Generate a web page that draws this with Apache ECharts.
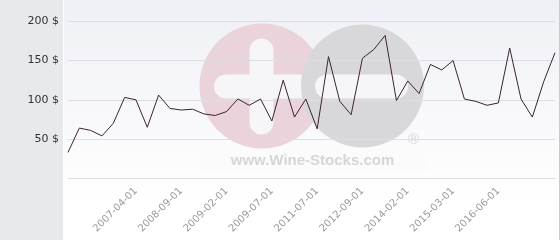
<!DOCTYPE html>
<html><head><meta charset="utf-8">
<script src="https://cdn.jsdelivr.net/npm/echarts@6/dist/echarts.min.js"></script>
<style>html,body{margin:0;padding:0;background:#fff}#c{width:560px;height:240px}</style>
</head><body><div id="c"></div>
<script>
// Category labels (only every 4th category is labelled in the reference; others unknown)
const categories = ['', '', '', '', '', '', '2007-04-01', '', '', '', '2008-09-01', '', '', '', '2009-02-01', '', '', '', '2009-07-01', '', '', '', '2011-07-01', '', '', '', '2012-09-01', '', '', '', '2014-02-01', '', '', '', '2015-03-01', '', '', '', '2016-06-01', '', '', '', '', ''];
const prices = [33, 64, 61, 54, 70, 103, 100, 65, 106, 89, 87, 88, 82, 80, 85, 101, 93, 101, 73, 125, 78, 101, 63, 155, 98, 81, 153, 164, 182, 99, 124, 108, 145, 138, 150, 101, 98, 93, 96, 166, 101, 78, 123, 160];
const yTicks = [0, 50, 100, 150, 200];

const chart = echarts.init(document.getElementById('c'), null, {renderer: 'canvas'});
chart.setOption({
  animation: false,
  backgroundColor: '#ffffff',
  grid: {left: 68, right: 5, top: 21.3, bottom: 61.7, containLabel: false},
  graphic: [
    {type: 'rect', z: -20, silent: true, shape: {x: 0, y: 0, width: 63, height: 240}, style: {fill: '#e6eaed'}},
    {type: 'rect', z: -20, silent: true, shape: {x: 64, y: 0, width: 495, height: 240},
      style: {fill: new echarts.graphic.LinearGradient(0, 0, 0, 1, [{offset: 0, color: '#eff0f5'}, {offset: 0.85, color: '#ffffff'}, {offset: 1, color: '#ffffff'}])}},
    {type: 'rect', z: -20, silent: true, shape: {x: 559, y: 0, width: 1, height: 240}, style: {fill: '#c9cbce'}},
    // watermark
    {type: 'rect', z: -15, silent: true, shape: {x: 197, y: 143, width: 231, height: 29}, style: {fill: '#fbfbfc'}},
    {type: 'circle', z: -14, silent: true, shape: {cx: 262, cy: 86, r: 62.5}, style: {fill: '#ead3da'}},
    {type: 'rect', z: -13, silent: true, shape: {x: 249.5, y: 38.5, width: 24, height: 96, r: 12}, style: {fill: '#f6f6f9'}},
    {type: 'rect', z: -13, silent: true, shape: {x: 214, y: 74.5, width: 100, height: 24, r: 12}, style: {fill: '#f6f6f9'}},
    {type: 'circle', z: -12, silent: true, shape: {cx: 362.5, cy: 86, r: 61.5}, style: {fill: '#d8d8da'}},
    {type: 'rect', z: -11, silent: true, shape: {x: 315, y: 74.5, width: 93, height: 24, r: 12}, style: {fill: '#f6f6f9'}},
    {type: 'text', z: -11, silent: true, style: {x: 312.5, y: 160.5, text: 'www.Wine-Stocks.com', fill: '#d6d6d9', font: 'bold 15px "Liberation Sans", Arial, sans-serif', align: 'center', verticalAlign: 'middle'}},
    {type: 'text', z: -11, silent: true, style: {x: 413.5, y: 139.5, text: '®', fill: '#d6d6d9', font: '15px "Liberation Sans", Arial, sans-serif', align: 'center', verticalAlign: 'middle'}}
  ],
  xAxis: {
    type: 'category', data: categories, boundaryGap: false,
    axisLine: {show: false}, axisTick: {show: false},
    axisLabel: {rotate: 45, interval: 0, margin: 11, color: '#9a9a9a', fontSize: 10, fontFamily: '"DejaVu Sans", sans-serif'},
    splitLine: {show: false}
  },
  yAxis: {
    type: 'value', min: yTicks[0], max: yTicks[yTicks.length - 1], interval: 50,
    axisLine: {show: false}, axisTick: {show: false},
    axisLabel: {formatter: '{value} $', color: '#333333', fontSize: 11, margin: 9, fontFamily: '"DejaVu Sans", sans-serif',
      showMinLabel: false},
    splitLine: {show: true, lineStyle: {color: '#dddde3', width: 1}}
  },
  series: [{
    type: 'line', data: prices, showSymbol: false, symbol: 'none',
    lineStyle: {color: '#3b2330', width: 1},
    z: 5
  }]
});
</script></body></html>
